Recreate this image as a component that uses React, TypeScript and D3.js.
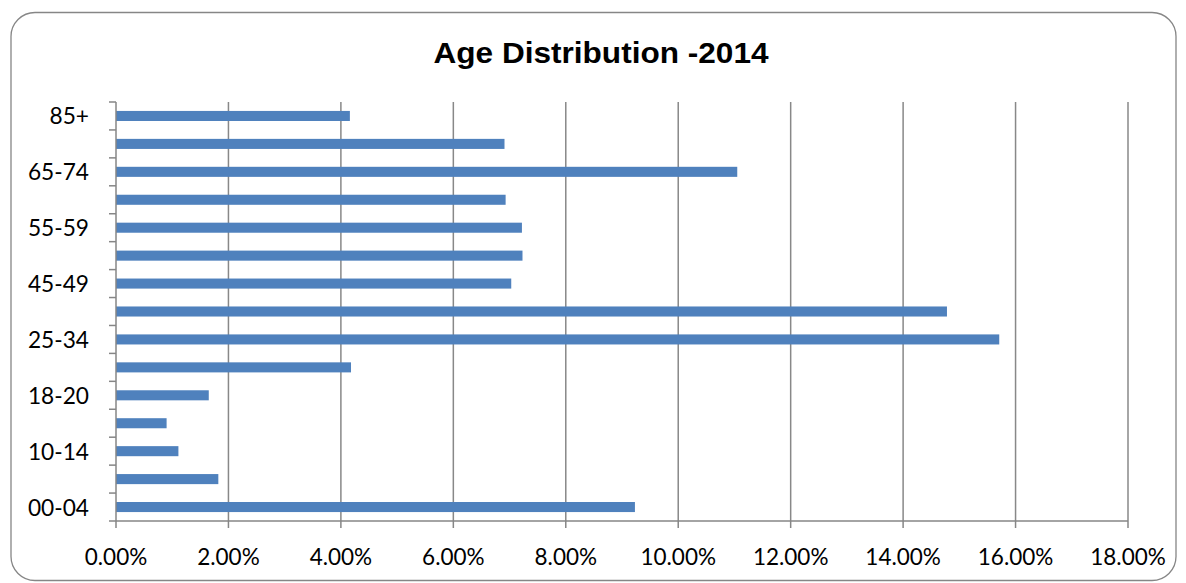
import { useEffect } from "react";
import * as d3 from "d3";

// bottom-to-top order, as in the chart
const ageGroups = [
  "00-04", "05-09", "10-14", "15-17", "18-20", "21-24", "25-34", "35-44",
  "45-49", "50-54", "55-59", "60-64", "65-74", "75-84", "85+",
];
const shares = [
  9.23, 1.82, 1.11, 0.9, 1.65, 4.18, 15.71, 14.78,
  7.03, 7.23, 7.22, 6.93, 11.05, 6.91, 4.16,
];
const xTicks = [0, 2, 4, 6, 8, 10, 12, 14, 16, 18];

const W = 1186;
const H = 583;
const plot = { left: 116, right: 1128, top: 102, bottom: 521 };
const labelFont = "Lato, 'Open Sans', 'Liberation Sans', sans-serif";

export default function App() {
  useEffect(() => {
    document.body.style.margin = "0";
  }, []);

  const x = d3.scaleLinear().domain([0, 18]).range([plot.left, plot.right]);
  const y = d3
    .scaleBand<string>()
    .domain([...ageGroups].reverse())
    .range([plot.top, plot.bottom])
    .paddingInner(0.64)
    .paddingOuter(0.32);
  const step = y.step();
  const boundaries = d3.range(ageGroups.length + 1).map((i) => plot.top + i * step);

  return (
    <svg width={W} height={H} style={{ display: "block" }}>
      <rect x={0} y={0} width={W} height={H} fill="#fff" />
      <rect
        x={11}
        y={12.5}
        width={1165}
        height={568}
        rx={24}
        ry={24}
        fill="#fff"
        stroke="#868686"
        strokeWidth={1.3}
      />
      <text
        x={601}
        y={63}
        textAnchor="middle"
        fontFamily="'Liberation Sans', Arial, sans-serif"
        fontWeight="bold"
        fontSize={30}
        textLength={335}
        lengthAdjust="spacingAndGlyphs"
        fill="#000"
      >
        Age Distribution -2014
      </text>

      {xTicks.slice(1).map((t) => (
        <line
          key={`g${t}`}
          x1={x(t)}
          x2={x(t)}
          y1={plot.top}
          y2={plot.bottom}
          stroke="#888"
          strokeWidth={1.5}
        />
      ))}

      {ageGroups.map((g, i) => (
        <rect
          key={g}
          x={x(0)}
          y={y(g)}
          width={x(shares[i]) - x(0)}
          height={y.bandwidth()}
          fill="#4f81bd"
        />
      ))}

      {/* left axis */}
      <line x1={plot.left} x2={plot.left} y1={plot.top} y2={plot.bottom} stroke="#868686" strokeWidth={1.5} />
      {boundaries.map((b, i) => (
        <line key={`yt${i}`} x1={plot.left - 7} x2={plot.left} y1={b} y2={b} stroke="#868686" strokeWidth={1.5} />
      ))}
      {ageGroups.map((g, i) =>
        i % 2 === 0 ? (
          <text
            key={`yl${g}`}
            x={89}
            y={(y(g) ?? 0) + y.bandwidth() / 2}
            textAnchor="end"
            dominantBaseline="central"
            fontFamily={labelFont}
            fontSize={22.7}
            fill="#000"
          >
            {g}
          </text>
        ) : null,
      )}

      {/* bottom axis */}
      <line x1={plot.left} x2={plot.right} y1={plot.bottom} y2={plot.bottom} stroke="#868686" strokeWidth={1.5} />
      {xTicks.map((t) => (
        <g key={`xt${t}`}>
          <line x1={x(t)} x2={x(t)} y1={plot.bottom} y2={plot.bottom + 7} stroke="#868686" strokeWidth={1.5} />
          <text
            x={x(t)}
            y={556}
            textAnchor="middle"
            dominantBaseline="central"
            fontFamily={labelFont}
            fontSize={22.5}
            fill="#000"
          >
            {`${t.toFixed(2)}%`}
          </text>
        </g>
      ))}
    </svg>
  );
}
